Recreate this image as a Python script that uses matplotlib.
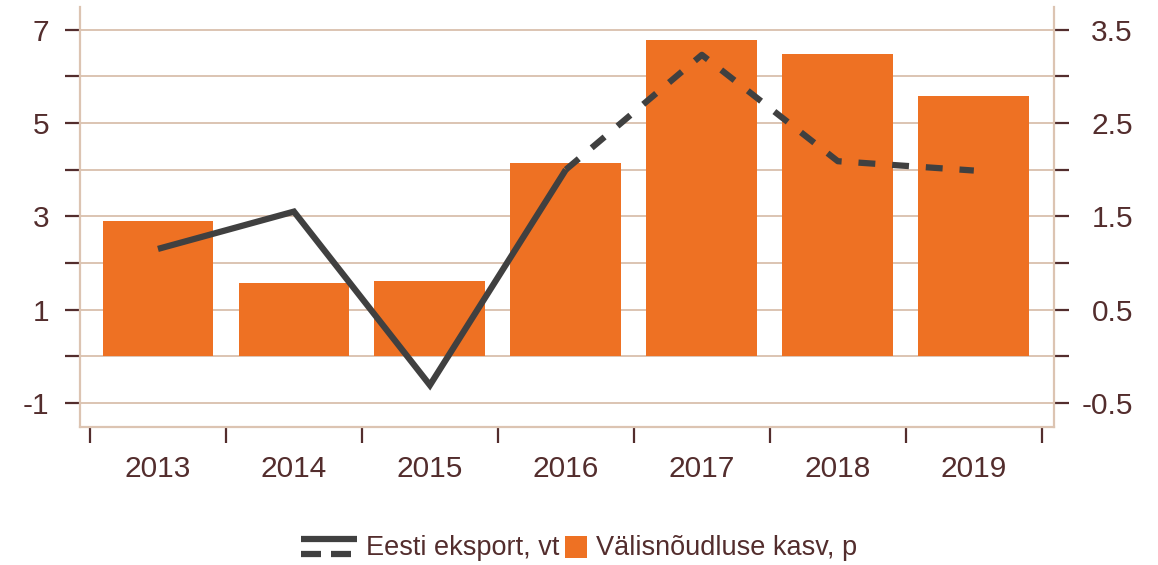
import matplotlib
matplotlib.use("Agg")
import matplotlib.pyplot as plt
import numpy as np
from matplotlib.legend_handler import HandlerBase
from matplotlib.lines import Line2D
from matplotlib.patches import Rectangle, Patch

years = ["2013", "2014", "2015", "2016", "2017", "2018", "2019"]
demand_growth = [2.90, 1.56, 1.61, 4.14, 6.77, 6.48, 5.58]   # bars, left axis
export_growth = [1.15, 1.55, -0.31, 2.00, 3.23, 2.09, 1.99]  # line, right axis
first_forecast = 3  # 2016 -> dashed from here on

left_ticks = list(range(-1, 8))
left_labels = [str(v) if v % 2 else "" for v in left_ticks]
right_ticks = [v / 2 for v in left_ticks]
right_labels = [f"{v:.1f}" if v % 1 else "" for v in right_ticks]

legend_labels = ["Eesti eksport, vt", "Välisnõudluse kasv, p"]

ORANGE = "#EE7123"
DARK = "#404040"
GRID = "#DCC4B2"
TEXT = "#532D2D"

plt.rcParams['font.family'] = ['Liberation Sans', 'DejaVu Sans']


class SplitLineHandler(HandlerBase):
    # excel style: solid on top, dashed below
    def create_artists(self, legend, orig_handle, xdescent, ydescent, width, height, fontsize, trans):
        x0 = -xdescent + width - 40
        x1 = -xdescent + width
        top = Line2D([x0, x1], [height * 0.85] * 2, color=DARK, lw=4.5,
                     solid_capstyle='butt', transform=trans)
        bot = Line2D([x0, x1], [height * 0.05] * 2, color=DARK, lw=4.5,
                     linestyle=(0, (3.2, 1.6)), dash_capstyle='butt', transform=trans)
        return [top, bot]


class SquareHandler(HandlerBase):
    def create_artists(self, legend, orig_handle, xdescent, ydescent, width, height, fontsize, trans):
        side = 16
        r = Rectangle((-xdescent + width - side, -ydescent + height / 2 - side / 2 - 1),
                      side, side, facecolor=ORANGE, edgecolor='none', transform=trans)
        return [r]


fig = plt.figure(figsize=(11.58, 5.65), dpi=100)
ax = fig.add_axes([0.069, 0.244, 0.841, 0.744])
x = np.arange(len(years))

ax.set_axisbelow(True)
ax.grid(axis='y', color=GRID, lw=1.4)
ax.bar(x, demand_growth, width=0.815, color=ORANGE, zorder=2)
ax.set_ylim(-1.52, 7.49)
ax.set_xlim(-0.574, 6.588)
ax.set_yticks(left_ticks)
ax.set_yticklabels(left_labels)

# boundaries as ticks, year labels in between
ax.set_xticks(np.arange(-0.5, len(years), 1.0))
ax.set_xticklabels([])
ax.set_xticks(x, minor=True)
ax.set_xticklabels(years, minor=True)
ax.tick_params(axis='x', which='major', length=11.5, width=1.6, color=TEXT)
ax.tick_params(axis='x', which='minor', length=0, pad=20, labelsize=21.5, labelcolor=TEXT)
ax.tick_params(axis='y', length=11, width=1.6, color=TEXT, pad=11, labelsize=21.5, labelcolor=TEXT)

for s in ['top', 'right']:
    ax.spines[s].set_visible(False)
for s in ['left', 'bottom']:
    ax.spines[s].set_color(GRID)
    ax.spines[s].set_linewidth(1.6)

ax2 = ax.twinx()
ax2.set_ylim(-0.76, 3.745)
ax2.set_yticks(right_ticks)
ax2.set_yticklabels(right_labels, ha='right')
ax2.tick_params(axis='y', length=11, width=1.6, color=TEXT, pad=46, labelsize=21.5, labelcolor=TEXT)
for s in ['top', 'left', 'bottom']:
    ax2.spines[s].set_visible(False)
ax2.spines['right'].set_color(GRID)
ax2.spines['right'].set_linewidth(1.6)

ax2.plot(x[:first_forecast + 1], export_growth[:first_forecast + 1], color=DARK, lw=4.5,
         solid_joinstyle='miter', solid_capstyle='butt')
ax2.plot(x[first_forecast:], export_growth[first_forecast:], color=DARK, lw=4.5,
         linestyle=(0, (2.7, 2.7)), dash_capstyle='butt')

line_handle = Line2D([], [], color=DARK)
bar_handle = Patch(color=ORANGE)
fig.legend([line_handle, bar_handle], legend_labels, loc='center', bbox_to_anchor=(0.515, 0.03),
           ncol=2, frameon=False, fontsize=19.5, labelcolor=TEXT,
           handlelength=0.8, handletextpad=0.35, columnspacing=0.2,
           handler_map={Line2D: SplitLineHandler(), Patch: SquareHandler()})

fig.savefig("out.png", dpi=100)
